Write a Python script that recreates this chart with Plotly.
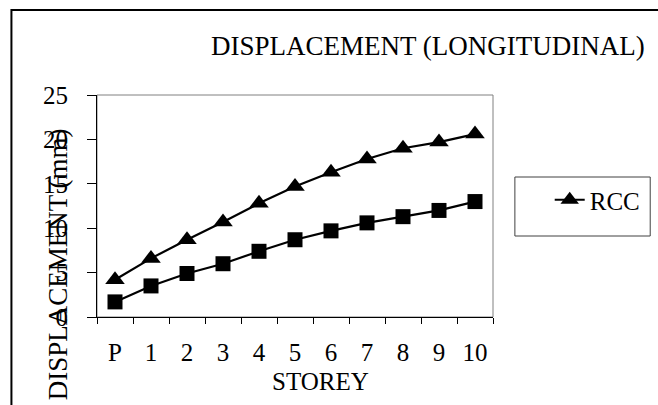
import plotly.graph_objects as go

storeys = ["P", "1", "2", "3", "4", "5", "6", "7", "8", "9", "10"]
rcc = [4.2, 6.6, 8.7, 10.7, 12.8, 14.7, 16.3, 17.8, 19.0, 19.7, 20.6]
second = [1.7, 3.5, 4.9, 6.0, 7.4, 8.7, 9.7, 10.6, 11.3, 12.0, 13.0]
y_ticks = [0, 5, 10, 15, 20, 25]

W, H = 658, 405
L, R, T, B = 97, 163, 95, 88
pw, ph = W - L - R, H - T - B

def px(x):
    return (x - L) / pw

def py(y):
    return (H - B - y) / ph

FONT = "Liberation Serif"

fig = go.Figure()
fig.add_trace(go.Scatter(
    x=storeys, y=rcc, name="RCC", mode="lines+markers",
    line=dict(color="black", width=2.2),
    marker=dict(symbol="triangle-up", size=17, color="black"),
))
fig.add_trace(go.Scatter(
    x=storeys, y=second, name="", mode="lines+markers", showlegend=False,
    line=dict(color="black", width=2.2),
    marker=dict(symbol="square", size=15, color="black"),
))

fig.update_layout(
    width=W, height=H,
    margin=dict(l=L, r=R, t=T, b=B),
    paper_bgcolor="white", plot_bgcolor="white",
    font=dict(family=FONT, color="black", size=24),
    showlegend=True,
    legend=dict(x=px(552), y=py(177), xanchor="left", yanchor="top",
                bgcolor="rgba(0,0,0,0)", borderwidth=0,
                font=dict(family=FONT, size=25, color="black")),
    xaxis=dict(type="category", tickson="boundaries", ticks="outside", ticklen=6,
               tickcolor="black", showline=True, linecolor="black", linewidth=1,
               showgrid=False, zeroline=False, tickfont=dict(size=25),
               ticklabelstandoff=13, range=[-0.5, 10.5]),
    yaxis=dict(range=[0, 25], tickvals=y_ticks, ticks="outside", ticklen=9,
               tickcolor="black", showline=True, linecolor="black", linewidth=1,
               showgrid=False, zeroline=False, tickfont=dict(size=25),
               ticklabelstandoff=14),
    shapes=[
        dict(type="rect", xref="paper", yref="paper", x0=0, x1=1, y0=0, y1=1,
             line=dict(color="#808080", width=1), layer="below"),
        dict(type="rect", xref="paper", yref="paper", x0=px(517), x1=px(653),
             y0=py(236), y1=py(177), line=dict(color="#404040", width=1)),
        dict(type="rect", xref="paper", yref="paper", x0=px(11), x1=px(680),
             y0=py(430), y1=py(10), line=dict(color="black", width=2)),
    ],
    annotations=[
        dict(text="DISPLACEMENT (LONGITUDINAL)", xref="paper", yref="paper",
             x=px(430), y=py(46), showarrow=False, xanchor="center", yanchor="middle",
             font=dict(size=27)),
        dict(text="STOREY", xref="paper", yref="paper",
             x=px(322), y=py(381), showarrow=False, xanchor="center", yanchor="middle",
             font=dict(size=25)),
        dict(text="DISPLACEMENT (mm)", xref="paper", yref="paper",
             x=px(58), y=py(264), showarrow=False, xanchor="center", yanchor="middle",
             textangle=-90, font=dict(size=27)),
    ],
)

fig.write_html("out.html")
